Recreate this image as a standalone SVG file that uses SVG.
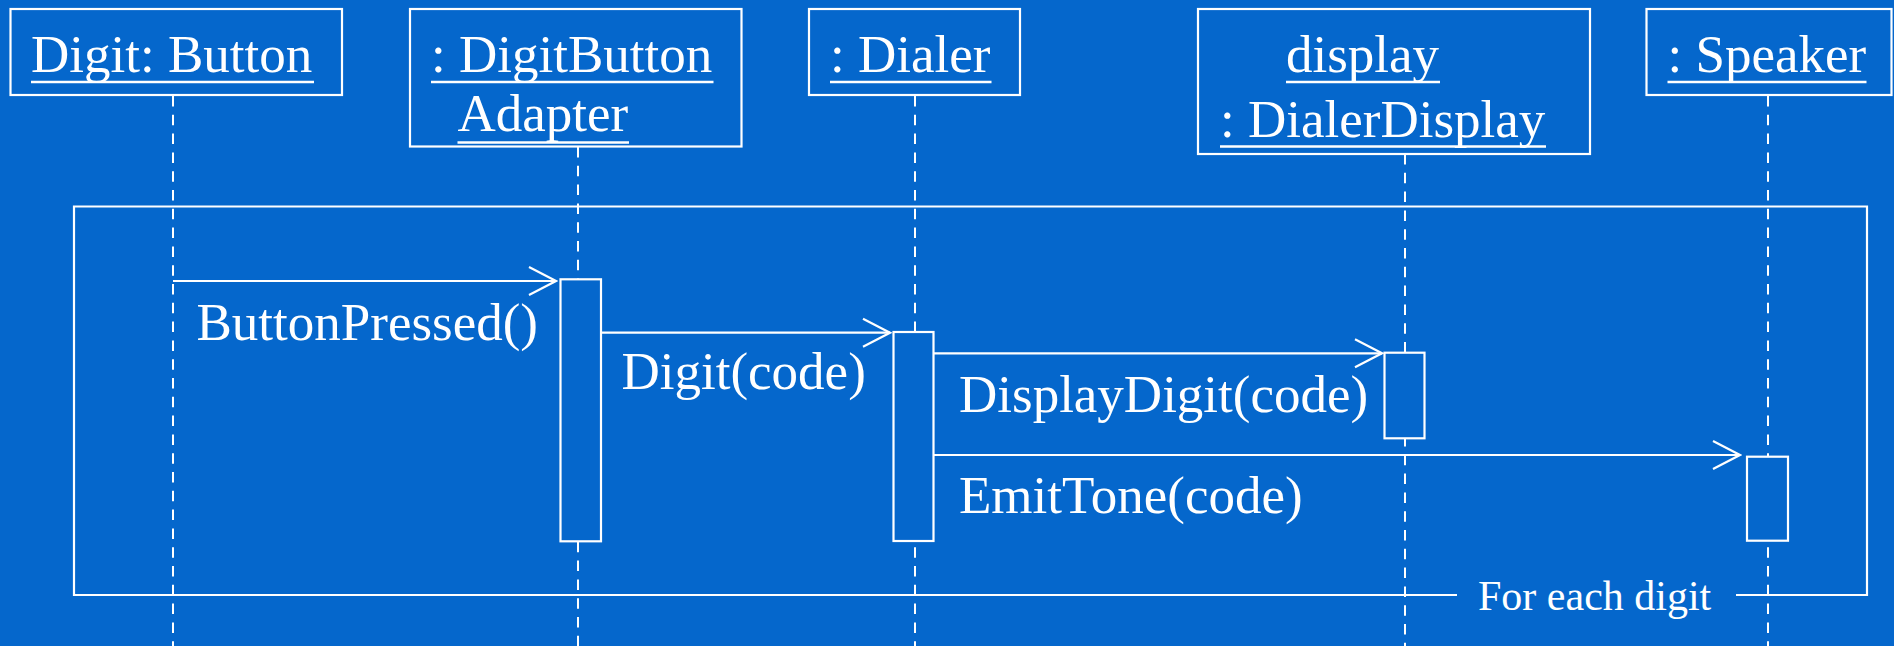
<svg xmlns="http://www.w3.org/2000/svg" width="1894" height="646" viewBox="0 0 1894 646">
  <style>
    .bg { fill: #0567cc; }
    .box { fill: none; stroke: #ffffff; stroke-width: 2.2; }
    .act { fill: #0567cc; stroke: #ffffff; stroke-width: 2.2; }
    .life { stroke: #ffffff; stroke-width: 2; stroke-dasharray: 10.5 8.3; fill: none; }
    .msg { stroke: #ffffff; stroke-width: 2.2; fill: none; }
    .ul { stroke: #ffffff; stroke-width: 2.7; }
    .lbl { font-family: "Liberation Serif", "Times New Roman", serif; font-size: 53px; fill: #ffffff; }
    .small { font-family: "Liberation Serif", "Times New Roman", serif; font-size: 42px; fill: #ffffff; }
  </style>
  <defs>
    <marker id="open" markerUnits="userSpaceOnUse" markerWidth="32" markerHeight="32" viewBox="-30 -16 32 32" refX="0" refY="0" orient="auto">
      <path d="M-27,-14 L0,0 L-27,14" fill="none" stroke="#ffffff" stroke-width="2.2"/>
    </marker>
  </defs>

  <rect class="bg" x="0" y="0" width="1894" height="646"/>

  <!-- lifelines -->
  <g id="lifelines">
    <line class="life" x1="173" y1="96" x2="173" y2="646"/>
    <line class="life" x1="578" y1="147" x2="578" y2="646"/>
    <line class="life" x1="915" y1="96" x2="915" y2="646"/>
    <line class="life" x1="1405" y1="154" x2="1405" y2="646"/>
    <line class="life" x1="1768" y1="96" x2="1768" y2="646"/>
  </g>

  <!-- loop frame -->
  <g id="loop">
    <path class="box" d="M1457,595 H74 V206.5 H1867 V595 H1736"/>
    <text class="small" x="1478" y="610">For each digit</text>
  </g>

  <!-- object heads -->
  <g id="digit-button">
    <rect class="box" x="10.5" y="9" width="331.5" height="86"/>
    <text class="lbl" x="31" y="71.5">Digit: Button</text>
    <line class="ul" x1="31" y1="82" x2="314" y2="82"/>
  </g>
  <g id="adapter">
    <rect class="box" x="410" y="9" width="331.5" height="137.5"/>
    <text class="lbl" x="431" y="71.5">: DigitButton</text>
    <line class="ul" x1="431" y1="82" x2="713.5" y2="82"/>
    <text class="lbl" x="457.5" y="131">Adapter</text>
    <line class="ul" x1="457.5" y1="142.5" x2="629" y2="142.5"/>
    <rect class="act" x="560.5" y="279.3" width="40.5" height="262"/>
  </g>
  <g id="dialer">
    <rect class="box" x="809" y="9" width="211" height="86"/>
    <text class="lbl" x="830" y="71.5">: Dialer</text>
    <line class="ul" x1="830" y1="82" x2="991.5" y2="82"/>
    <rect class="act" x="893.5" y="332" width="40" height="209"/>
  </g>
  <g id="display">
    <rect class="box" x="1198" y="9" width="392" height="145"/>
    <text class="lbl" x="1286" y="71.5">display</text>
    <line class="ul" x1="1286" y1="82" x2="1440" y2="82"/>
    <text class="lbl" x="1220" y="137">: DialerDisplay</text>
    <line class="ul" x1="1220" y1="146.5" x2="1546" y2="146.5"/>
    <rect class="act" x="1384.5" y="352.7" width="40" height="85.6"/>
  </g>
  <g id="speaker">
    <rect class="box" x="1646.5" y="9" width="245" height="86"/>
    <text class="lbl" x="1667.5" y="71.5">: Speaker</text>
    <line class="ul" x1="1667.5" y1="82" x2="1866.5" y2="82"/>
    <rect class="act" x="1747" y="456.7" width="41" height="84"/>
  </g>

  <!-- messages -->
  <g id="connectors">
    <line class="msg" x1="173" y1="281" x2="556" y2="281" marker-end="url(#open)"/>
    <text class="lbl" x="196.5" y="340">ButtonPressed()</text>
    <line class="msg" x1="601" y1="332.7" x2="890" y2="332.7" marker-end="url(#open)"/>
    <text class="lbl" x="621.5" y="389">Digit(code)</text>
    <line class="msg" x1="933.5" y1="353.3" x2="1382" y2="353.3" marker-end="url(#open)"/>
    <text class="lbl" x="959" y="411.5">DisplayDigit(code)</text>
    <line class="msg" x1="933.5" y1="455" x2="1740" y2="455" marker-end="url(#open)"/>
    <text class="lbl" x="959" y="512.5">EmitTone(code)</text>
  </g>
</svg>
